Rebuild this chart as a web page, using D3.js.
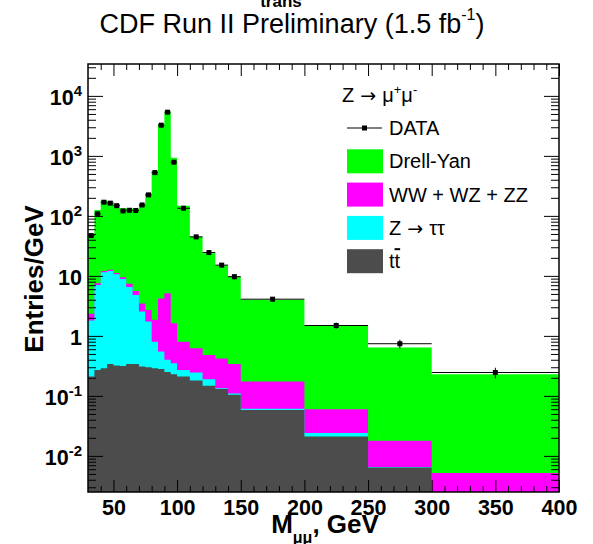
<!DOCTYPE html>
<html>
<head>
<meta charset="utf-8">
<script src="https://cdn.jsdelivr.net/npm/d3@7"></script>
<style>
body { margin: 0; background: #fff; }
svg { font-family: 'Liberation Sans', Arial, sans-serif; }
</style>
</head>
<body>
<svg id="chart"></svg>
<script>
// bin edges in GeV (variable width)
let binEdges = [30, 35, 40, 45, 50, 55, 60, 65, 70, 75, 80, 85, 90, 95, 100, 110, 120, 130, 140, 150, 200, 250, 300, 400]

// entries / GeV, one value per bin, stacked bottom -> top
let ttbar    = [0.21, 0.27, 0.29, 0.34, 0.32, 0.316, 0.34, 0.34, 0.31, 0.30, 0.29, 0.28, 0.25, 0.23, 0.21, 0.18, 0.147, 0.13, 0.104, 0.058, 0.021, 0.0064, 0.001]
let ztautau  = [1.59, 6.81, 11.2, 11.76, 10.28, 8.58, 6.16, 4.46, 2.23, 1.43, 0.51, 0.27, 0.15, 0.12, 0.06, 0.065, 0.043, 0.004, 0.006, 0.003, 0.003, 0.0001, 0.0001]
let diboson  = [0.53, 0.47, 0.6, 0.5, 0.6, 0.6, 0.86, 0.8, 0.92, 0.98, 1.05, 3.63, 4.75, 1.28, 0.53, 0.375, 0.29, 0.286, 0.23, 0.112, 0.036, 0.0113, 0.0041]
let drellYan = [47.7, 117.5, 167.9, 160.4, 146.8, 124.5, 126.6, 125.4, 154.5, 235.3, 560, 3376, 5465, 933, 146.2, 44.4, 23.4, 14.5, 9.36, 3.83, 1.40, 0.622, 0.225]
let dataVals = [47, 108, 169, 163, 148, 121, 124, 123, 152, 224, 527, 3250, 5350, 785, 134, 44.7, 24.5, 15.1, 9.7, 4.09, 1.49, 0.74, 0.245]

let xTicks = [50, 100, 150, 200, 250, 300, 350, 400]
let yDecades = [-2, -1, 0, 1, 2, 3, 4]

let legendItems = [
    {label: 'Drell-Yan', color: '#00ff00'},
    {label: 'WW + WZ + ZZ', color: '#ff00ff'},
    {label: 'ztt', color: '#00ffff'},
    {label: 'tt', color: '#4c4c4c'}
]

let width = 593
let height = 544
let padLeft = 88, padRight = 559, padTop = 64, padBottom = 492

let svg = d3.select('#chart').attr('width', width).attr('height', height)

let xScale = d3.scaleLinear().domain([30, 400]).range([padLeft, padRight])
let yScale = d3.scaleLog().domain([0.0025, 34000]).range([padBottom, padTop])
let yMin = 0.0025

let bins = binEdges.slice(0, -1).map((lo, i) => ({
    lo: lo, hi: binEdges[i + 1],
    tt: ttbar[i], ztt: ztautau[i], vv: diboson[i], dy: drellYan[i],
    data: dataVals[i]
}))

let colorOf = {tt: '#4c4c4c', ztt: '#00ffff', vv: '#ff00ff', dy: '#00ff00'}

let stacked = d3.stack().keys(['tt', 'ztt', 'vv', 'dy'])(bins)

let area = d3.area()
    .x(p => xScale(p.x))
    .y0(padBottom)
    .y1(p => yScale(Math.max(p.v, yMin)))

// draw cumulative histograms, biggest first
stacked.slice().reverse().forEach(layer => {
    let pts = []
    layer.forEach((d, i) => {
        pts.push({x: bins[i].lo, v: d[1]})
        pts.push({x: bins[i].hi, v: d[1]})
    })
    svg.append('path')
        .attr('d', area(pts))
        .attr('fill', colorOf[layer.key])
})

// data points
let dataG = svg.append('g')
bins.forEach(b => {
    let cx = xScale((b.lo + b.hi) / 2)
    let cy = yScale(b.data)
    let w = b.hi - b.lo
    let err = Math.sqrt(b.data * w) / w
    dataG.append('line')
        .attr('x1', xScale(b.lo)).attr('x2', xScale(b.hi))
        .attr('y1', cy).attr('y2', cy)
        .attr('stroke', '#000').attr('stroke-width', 1)
    dataG.append('line')
        .attr('x1', cx).attr('x2', cx)
        .attr('y1', yScale(b.data + err)).attr('y2', yScale(Math.max(b.data - err, yMin)))
        .attr('stroke', '#000').attr('stroke-width', 1)
    dataG.append('rect')
        .attr('x', cx - 2.5).attr('y', cy - 2.5)
        .attr('width', 5).attr('height', 5)
        .attr('fill', '#000')
})

// axes
let minorX = d3.range(40, 400, 10).filter(v => v % 50 !== 0)
let minorY = []
d3.range(-3, 5).forEach(d => {
    d3.range(2, 10).forEach(k => {
        let v = k * Math.pow(10, d)
        if (v > yMin && v < 34000) minorY.push(v)
    })
})

let styleAxis = g => {
    g.select('.domain').remove()
    g.selectAll('line').attr('stroke', '#000')
}

svg.append('g')
    .attr('transform', 'translate(0,' + padBottom + ')')
    .call(d3.axisBottom(xScale).tickValues(xTicks).tickSize(-12).tickPadding(8).tickFormat(d3.format('d')))
    .call(styleAxis)
    .selectAll('text')
    .attr('font-size', 21.5).attr('font-weight', 'bold')
    .attr('font-family', "'Liberation Sans', Arial, sans-serif").attr('fill', '#000')

svg.append('g')
    .attr('transform', 'translate(0,' + padBottom + ')')
    .call(d3.axisBottom(xScale).tickValues(minorX).tickSize(-6).tickFormat(''))
    .call(styleAxis)

svg.append('g')
    .attr('transform', 'translate(0,' + padTop + ')')
    .call(d3.axisTop(xScale).tickValues(xTicks).tickSize(-12).tickFormat(''))
    .call(styleAxis)

svg.append('g')
    .attr('transform', 'translate(0,' + padTop + ')')
    .call(d3.axisTop(xScale).tickValues(minorX).tickSize(-6).tickFormat(''))
    .call(styleAxis)

let yMajor = yDecades.map(e => Math.pow(10, e))

let yAxisG = svg.append('g')
    .attr('transform', 'translate(' + padLeft + ',0)')
    .call(d3.axisLeft(yScale).tickValues(yMajor).tickSize(-15).tickPadding(6).tickFormat(''))
    .call(styleAxis)

yAxisG.selectAll('.tick text').each(function (d) {
    let t = d3.select(this)
    let e = Math.round(Math.log10(d))
    t.attr('font-size', 21.5).attr('font-weight', 'bold').attr('fill', '#000')
        .attr('font-family', "'Liberation Sans', Arial, sans-serif")
        .attr('dy', '0.42em')
    if (e === 0) t.text('1')
    else if (e === 1) t.text('10')
    else {
        t.text('10')
        t.append('tspan').attr('dy', -9).attr('font-size', 15).text(e)
    }
})

svg.append('g')
    .attr('transform', 'translate(' + padLeft + ',0)')
    .call(d3.axisLeft(yScale).tickValues(minorY).tickSize(-8).tickFormat(''))
    .call(styleAxis)

svg.append('g')
    .attr('transform', 'translate(' + padRight + ',0)')
    .call(d3.axisRight(yScale).tickValues(yMajor).tickSize(-15).tickFormat(''))
    .call(styleAxis)

svg.append('g')
    .attr('transform', 'translate(' + padRight + ',0)')
    .call(d3.axisRight(yScale).tickValues(minorY).tickSize(-8).tickFormat(''))
    .call(styleAxis)

// frame
svg.append('rect')
    .attr('x', padLeft).attr('y', padTop)
    .attr('width', padRight - padLeft).attr('height', padBottom - padTop)
    .attr('fill', 'none').attr('stroke', '#000').attr('stroke-width', 1.5)

// title
let title = svg.append('text')
    .attr('x', 292).attr('y', 33)
    .attr('text-anchor', 'middle')
    .attr('font-size', 27)
    .text('CDF Run II Preliminary (1.5 fb')
title.append('tspan').attr('dy', -13).attr('font-size', 16).text('-1')
title.append('tspan').attr('dy', 13).text(')')

// leftover subscript of a title above the pad, cut by the canvas edge
svg.append('text')
    .attr('x', 281).attr('y', 7)
    .attr('text-anchor', 'middle')
    .attr('font-size', 17).attr('font-weight', 'bold')
    .text('trans')

// axis titles
let xTitle = svg.append('text')
    .attr('x', 325).attr('y', 533)
    .attr('text-anchor', 'middle')
    .attr('font-size', 26).attr('font-weight', 'bold')
    .text('M')
xTitle.append('tspan').attr('dy', 10).attr('font-size', 16).text('\u03bc\u03bc')
xTitle.append('tspan').attr('dy', -10).text(', GeV')

svg.append('text')
    .attr('transform', 'translate(43,279) rotate(-90)')
    .attr('text-anchor', 'middle')
    .attr('font-size', 26).attr('font-weight', 'bold')
    .text('Entries/GeV')

// legend
let arrow = t => t.append('tspan')
    .attr('font-family', "'DejaVu Sans', sans-serif")
    .attr('font-size', 19)
    .text(' \u2192 ')

let header = svg.append('text')
    .attr('x', 342).attr('y', 101.5)
    .attr('font-size', 20)
    .text('Z')
arrow(header)
header.append('tspan').text('\u03bc')
header.append('tspan').attr('dy', -8).attr('font-size', 13).text('+')
header.append('tspan').attr('dy', 8).text('\u03bc')
header.append('tspan').attr('dy', -8).attr('font-size', 13).text('-')

let rowY0 = 128
let rowStep = 33.3

svg.append('line')
    .attr('x1', 347).attr('x2', 382)
    .attr('y1', rowY0).attr('y2', rowY0)
    .attr('stroke', '#000').attr('stroke-width', 1)
svg.append('rect')
    .attr('x', 362).attr('y', rowY0 - 2.5)
    .attr('width', 5).attr('height', 5).attr('fill', '#000')
svg.append('text')
    .attr('x', 389).attr('y', rowY0 + 7)
    .attr('font-size', 20)
    .text('DATA')

legendItems.forEach((item, i) => {
    let cy = rowY0 + rowStep * (i + 1)
    svg.append('rect')
        .attr('x', 347).attr('y', cy - 12)
        .attr('width', 36).attr('height', 24)
        .attr('fill', item.color)
    let t = svg.append('text')
        .attr('x', 389).attr('y', cy + 7)
        .attr('font-size', 20)
    if (item.label === 'tt') {
        t.append('tspan').text('t')
        t.append('tspan').attr('text-decoration', 'overline').text('t')
    } else if (item.label === 'ztt') {
        t.append('tspan').text('Z')
        arrow(t)
        t.append('tspan').text('\u03c4\u03c4')
    } else {
        t.text(item.label)
    }
})
</script>
</body>
</html>
